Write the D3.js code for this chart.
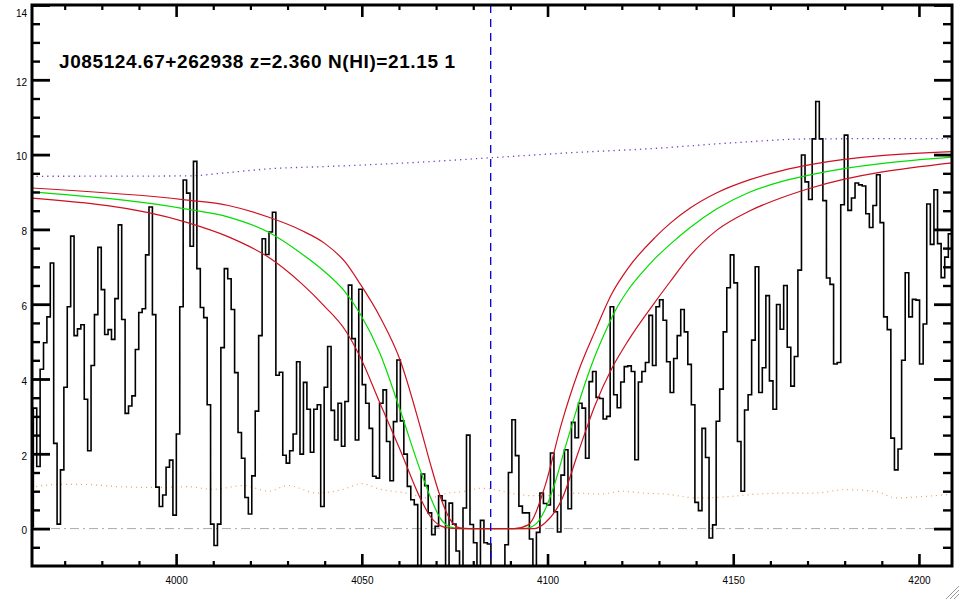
<!DOCTYPE html>
<html><head><meta charset="utf-8">
<script src="https://cdn.jsdelivr.net/npm/d3@7"></script>
<style>html,body{margin:0;padding:0;background:#fff;} svg{display:block;}</style>
</head><body>
<svg id="chart" width="960" height="600"></svg>
<script>
// ---------------- data ----------------
const titleText = "J085124.67+262938 z=2.360 N(HI)=21.15 1";
const xDomain = [3961.2, 4208.9];
const yDomain = [-1, 14];
const xMajorTicks = [4000, 4050, 4100, 4150, 4200];
const xTickLabels = ["4000", "4050", "4100", "4150", "4200"];
const yMajorTicks = [0, 2, 4, 6, 8, 10, 12, 14];
const yTickLabels = ["0", "2", "4", "6", "8", "10", "12", "14"];
const lyaCenter = 4084.7;   // 1215.67 * (1 + 2.360)

// SDSS log-linear pixel grid of the observed spectrum
const fluxLogLam0 = Math.log10(3960.65);
const fluxDLogLam = 0.0001;
const flux = [
0.05,
3.22,1.66,4.26,4.97,5.66,7.10,2.28,0.12,1.57,3.78,
5.93,7.82,5.16,5.34,5.45,3.46,2.08,4.36,5.72,7.52,
6.39,5.19,5.32,5.06,6.15,8.12,5.59,3.08,3.28,3.55,
4.79,5.78,5.88,7.32,8.60,5.72,1.11,0.59,0.90,1.64,
1.83,0.36,2.53,5.93,9.32,8.97,7.55,9.82,6.95,5.91,
5.64,3.31,0.12,-0.45,0.12,4.84,6.95,6.68,5.86,4.17,
2.57,1.88,0.83,0.39,1.41,3.14,5.16,7.75,7.33,7.93,
8.46,4.10,4.18,1.96,1.75,2.08,2.53,4.46,1.99,3.91,
3.19,2.04,3.19,3.31,0.59,3.78,4.87,3.16,2.37,3.35,
2.20,3.40,6.51,5.08,2.37,6.40,3.85,3.35,2.68,1.40,
1.35,3.35,3.71,2.33,1.28,2.86,4.51,2.88,1.99,1.13,
0.77,0.64,-1.3,1.46,1.15,0.42,-0.16,0.06,0.88,0.75,
-1.3,0.68,0.12,-0.60,-1.3,0.55,2.50,0.11,-0.38,-1.3,
0.22,-0.38,-0.41,-1.3,-1.3,-1.3,-1.3,-0.43,1.50,2.91,
1.95,0.60,0.42,0.42,-0.28,-1.3,-0.10,0.95,0.67,0.63,
2.02,0.45,-0.09,1.43,2.11,0.53,2.84,2.43,3.35,3.22,
1.88,3.93,4.20,3.51,3.48,2.93,3.00,5.93,3.58,3.23,
3.92,4.33,4.35,4.20,1.84,3.92,4.20,4.44,5.70,4.36,
5.93,6.12,5.57,4.46,3.64,4.55,5.16,5.86,5.26,4.39,
3.31,0.70,0.48,2.68,1.90,-0.25,0.10,2.87,3.73,5.26,
6.44,7.32,6.57,2.33,1.00,3.17,3.58,5.04,7.00,3.64,
4.30,6.23,3.95,3.19,5.99,5.33,6.50,4.85,3.81,4.60,
6.91,9.99,9.27,8.80,10.42,11.42,10.42,8.77,6.70,6.53,
4.40,4.44,8.66,10.52,8.51,8.84,9.24,9.19,9.16,8.42,
8.05,8.64,9.46,8.18,5.66,5.32,2.42,1.57,2.13,4.50,
6.84,5.66,6.13,6.11,4.40,5.47,8.68,7.60,9.06,7.62,
6.71,7.26,7.88
];

// continuum fit [wavelength, flux]
const continuum = [
[3961,9.42],[4003,9.43],[4014,9.52],[4025,9.62],[4040,9.68],[4045,9.70],
[4066,9.80],[4087,9.93],[4108,10.06],[4128,10.16],[4149,10.31],[4171,10.42],[4209,10.43]
];

// best-fit damped profile (green)
const modelBest = [
[3960.7,9.01],[4002.4,8.55],[4014.1,8.33],[4024.8,7.93],[4033.8,7.35],[4040.1,6.86],
[4045.5,6.33],[4049.5,5.75],[4054.9,4.68],[4060.3,3.17],[4065.7,1.57],[4068.4,0.86],
[4071.1,0.28],[4073.8,0.04],[4076.4,0.0],[4093.9,0.0],[4096.6,0.10],[4099.3,0.50],
[4102.0,1.22],[4104.7,2.15],[4107.4,3.04],[4110.1,3.88],[4112.8,4.62],[4115.5,5.25],
[4118.2,5.82],[4121.7,6.38],[4125.4,6.84],[4128.9,7.22],[4133.0,7.60],[4138.4,8.05],
[4145.6,8.55],[4154.5,9.00],[4163.4,9.29],[4170.7,9.46],[4208.9,9.93]
];
// N(HI) - sigma profile (upper red)
const modelLow = [
[3960.7,9.11],[4002.4,8.79],[4014.1,8.64],[4024.8,8.33],[4033.8,7.97],[4040.1,7.62],
[4045.5,7.13],[4049.5,6.55],[4054.9,5.66],[4060.3,4.51],[4065.7,2.73],[4068.4,1.75],
[4071.1,0.86],[4073.8,0.24],[4076.4,0.02],[4079.0,0.0],[4091.0,0.0],[4094.8,0.10],
[4099.3,1.13],[4103.8,2.82],[4108.3,4.20],[4112.8,5.28],[4117.3,6.28],[4121.8,6.98],
[4128.9,7.78],[4133.0,8.16],[4138.4,8.57],[4145.6,8.98],[4154.5,9.33],[4163.4,9.58],
[4170.7,9.73],[4208.9,10.08]
];
// N(HI) + sigma profile (lower red)
const modelHigh = [
[3960.7,8.84],[4002.4,8.20],[4014.1,7.80],[4024.8,7.26],[4033.8,6.55],[4040.1,5.93],
[4045.5,5.31],[4049.5,4.60],[4054.9,3.35],[4060.3,2.11],[4065.7,0.82],[4068.4,0.33],
[4071.1,0.08],[4073.8,0.01],[4076.4,0.0],[4096.5,0.0],[4099.3,0.15],[4103.8,0.77],
[4108.3,2.05],[4112.8,3.30],[4117.3,4.28],[4121.8,5.04],[4128.9,6.05],[4133.0,6.60],
[4138.4,7.30],[4145.6,7.98],[4154.5,8.50],[4163.4,8.86],[4170.7,9.10],[4208.9,9.78]
];

// 1-sigma error spectrum (orange dotted)
const errorSpec = [
[3961,1.10],[3968,1.18],[3975,1.18],[3985,1.12],[3995,1.10],[4003,1.12],[4010,1.05],
[4018,1.15],[4025,1.00],[4030,1.15],[4038,0.95],[4045,1.05],[4050,1.20],[4055,1.05],
[4062,0.95],[4068,0.82],[4073,0.95],[4078,1.00],[4082,1.08],[4086,1.04],[4090,0.95],
[4096,0.88],[4102,0.88],[4108,0.95],[4114,0.92],[4120,1.00],[4126,0.95],[4132,0.92],
[4140,0.82],[4148,0.85],[4156,0.92],[4164,0.95],[4172,0.95],[4180,1.04],[4188,1.00],
[4194,0.82],[4200,0.85],[4209,0.92]
];

// ---------------- drawing ----------------
const L = 32, R = 952, T = 5, B = 566;
const svg = d3.select("#chart");
const x = d3.scaleLinear().domain(xDomain).range([L, R]);
const y = d3.scaleLinear().domain(yDomain).range([B, T]);

svg.append("rect").attr("width", 960).attr("height", 600).attr("fill", "#fff");

svg.append("defs").append("clipPath").attr("id", "plotClip")
  .append("rect").attr("x", L).attr("y", T).attr("width", R - L).attr("height", B - T);
const plot = svg.append("g").attr("clip-path", "url(#plotClip)");

// zero line (dash-dot gray)
plot.append("line")
  .attr("x1", x(xDomain[0])).attr("x2", x(xDomain[1]))
  .attr("y1", y(0)).attr("y2", y(0))
  .attr("stroke", "#aaaaaa").attr("stroke-width", 1)
  .attr("stroke-dasharray", "9,4,2,4");

const smooth = d3.line().x(d => x(d[0])).y(d => y(d[1])).curve(d3.curveMonotoneX);

// error spectrum
plot.append("path").datum(errorSpec).attr("d", smooth)
  .attr("fill", "none").attr("stroke", "#eaa060").attr("stroke-width", 1.2)
  .attr("stroke-dasharray", "1,4");

// continuum
plot.append("path").datum(continuum).attr("d", smooth)
  .attr("fill", "none").attr("stroke", "#7a40c8").attr("stroke-width", 1.3)
  .attr("stroke-dasharray", "1.3,4");

// histogram spectrum
const histPts = flux.map((f, i) => [Math.pow(10, fluxLogLam0 + i * fluxDLogLam), f]);
histPts.push([Math.pow(10, fluxLogLam0 + flux.length * fluxDLogLam), flux[flux.length - 1]]);
plot.append("path").datum(histPts)
  .attr("d", d3.line().x(d => x(d[0])).y(d => y(d[1])).curve(d3.curveStepAfter))
  .attr("fill", "none").attr("stroke", "#000").attr("stroke-width", 1.6)
  .attr("stroke-linejoin", "miter");

// models
plot.append("path").datum(modelBest).attr("d", smooth)
  .attr("fill", "none").attr("stroke", "#00dd00").attr("stroke-width", 1.2);
[modelLow, modelHigh].forEach(m => {
  plot.append("path").datum(m).attr("d", smooth)
    .attr("fill", "none").attr("stroke", "#cc1122").attr("stroke-width", 1.2);
});

// Lyman alpha centre
plot.append("line")
  .attr("x1", x(lyaCenter)).attr("x2", x(lyaCenter))
  .attr("y1", T).attr("y2", B)
  .attr("stroke", "#0000d0").attr("stroke-width", 1.3)
  .attr("stroke-dasharray", "8,6");

// ---------------- axes ----------------
const xMinor = d3.range(3970, 4210, 10).filter(v => !xMajorTicks.includes(v));
const yMinor = d3.range(-0.5, 14, 0.5).filter(v => !yMajorTicks.includes(v));

function styleAxis(g, w) {
  g.select(".domain").remove();
  g.selectAll(".tick line").attr("stroke", "#000").attr("stroke-width", w);
}

// bottom
svg.append("g").attr("transform", `translate(0,${B})`)
  .call(d3.axisBottom(x).tickValues(xMajorTicks)
    .tickFormat((d, i) => xTickLabels[i]).tickSizeInner(-12).tickSizeOuter(0).tickPadding(11))
  .call(g => styleAxis(g, 2.6))
  .call(g => g.selectAll("text").attr("font-family", "Liberation Sans, Arial, sans-serif")
    .attr("font-size", 10).attr("fill", "#000"));
svg.append("g").attr("transform", `translate(0,${B})`)
  .call(d3.axisBottom(x).tickValues(xMinor).tickFormat("").tickSizeInner(-5).tickSizeOuter(0))
  .call(g => styleAxis(g, 2.2));

// top
svg.append("g").attr("transform", `translate(0,${T})`)
  .call(d3.axisTop(x).tickValues(xMajorTicks).tickFormat("").tickSizeInner(-12).tickSizeOuter(0))
  .call(g => styleAxis(g, 2.6));
svg.append("g").attr("transform", `translate(0,${T})`)
  .call(d3.axisTop(x).tickValues(xMinor).tickFormat("").tickSizeInner(-5).tickSizeOuter(0))
  .call(g => styleAxis(g, 2.2));

// left
svg.append("g").attr("transform", `translate(${L},0)`)
  .call(d3.axisLeft(y).tickValues(yMajorTicks)
    .tickFormat((d, i) => yTickLabels[i]).tickSizeInner(-18).tickSizeOuter(0).tickPadding(5))
  .call(g => styleAxis(g, 2.8))
  .call(g => g.selectAll("text").attr("font-family", "Liberation Sans, Arial, sans-serif")
    .attr("font-size", 10).attr("fill", "#000").attr("dy", "0.52em"))
  .call(g => g.selectAll(".tick").filter(d => d === 14).select("text").attr("dy", "1.1em"));
svg.append("g").attr("transform", `translate(${L},0)`)
  .call(d3.axisLeft(y).tickValues(yMinor).tickFormat("").tickSizeInner(-8).tickSizeOuter(0))
  .call(g => styleAxis(g, 2.4));

// right
svg.append("g").attr("transform", `translate(${R},0)`)
  .call(d3.axisRight(y).tickValues(yMajorTicks).tickFormat("").tickSizeInner(-18).tickSizeOuter(0))
  .call(g => styleAxis(g, 2.8));
svg.append("g").attr("transform", `translate(${R},0)`)
  .call(d3.axisRight(y).tickValues(yMinor).tickFormat("").tickSizeInner(-9).tickSizeOuter(0))
  .call(g => styleAxis(g, 2.4));

// frame
svg.append("rect").attr("x", L).attr("y", T).attr("width", R - L).attr("height", B - T)
  .attr("fill", "none").attr("stroke", "#000").attr("stroke-width", 3);

// title
svg.append("text").attr("x", 59).attr("y", 68)
  .attr("font-family", "Liberation Sans, Arial, Helvetica, sans-serif")
  .attr("font-weight", "bold").attr("font-size", 19)
  .attr("textLength", 396).attr("lengthAdjust", "spacing")
  .attr("fill", "#000").text(titleText);

// window resize grip
const grip = svg.append("g").attr("stroke", "#9a9a9a").attr("stroke-width", 1);
[[946, 599, 959, 586], [950, 599, 959, 590], [954, 599, 959, 594]].forEach(s =>
  grip.append("line").attr("x1", s[0]).attr("y1", s[1]).attr("x2", s[2]).attr("y2", s[3]));
</script>
</body></html>
